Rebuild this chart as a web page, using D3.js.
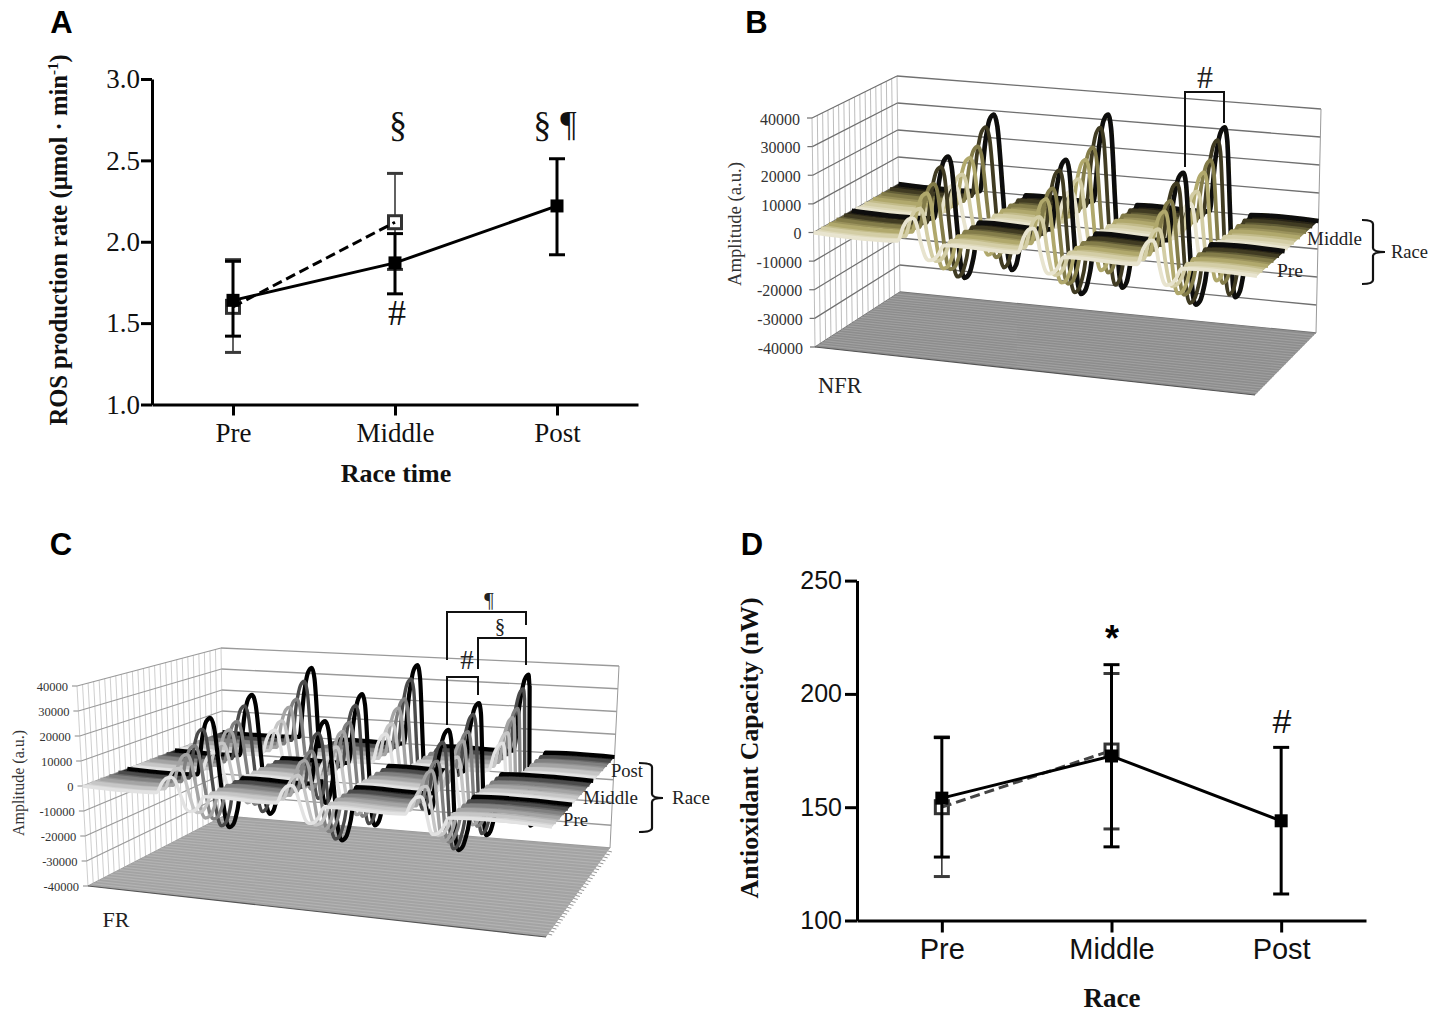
<!DOCTYPE html>
<html>
<head>
<meta charset="utf-8">
<title>ROS production, EPR amplitude and antioxidant capacity</title>
<script src="https://d3js.org/d3.v7.min.js"></script>
<style>
  body { margin: 0; background: #fff; }
  svg { display: block; }
</style>
</head>
<body>
<svg id="fig" width="1445" height="1012"></svg>
<script>
// panel A + D categories
var raceTimes = ['Pre', 'Middle', 'Post'];

// panel A, ROS production rate
var rosSolidMean = [1.64, 1.87, 2.22];
var rosSolidHigh = [1.88, 2.05, 2.51];
var rosSolidLow = [1.42, 1.68, 1.92];
var rosDashMean = [1.60, 2.12];
var rosDashHigh = [1.89, 2.42];
var rosDashLow = [1.32, 1.83];
var rosTicks = [1.0, 1.5, 2.0, 2.5, 3.0];

// panel D, antioxidant capacity
var capSolidMean = [154, 172.6, 144];
var capSolidHigh = [180.7, 212.9, 176.4];
var capSolidLow = [128, 132.5, 111.7];
var capDashMean = [150, 175];
var capDashHigh = [181, 209];
var capDashLow = [119.4, 140.4];
var capTicks = [100, 150, 200, 250];

var ampTicks = [40000, 30000, 20000, 10000, 0, -10000, -20000, -30000, -40000];

// panel B, NFR. each row is one trace, front to back:
// peak1, trough1, peak2, trough2, peak3, trough3
var nfrPreAmp = [
  [8300, -5700, 8800, -6200, 8600, -6100],
  [10100, -7600, 11200, -8300, 10800, -8100],
  [14000, -11800, 15900, -12600, 15300, -12300],
  [15800, -13700, 18000, -14700, 17400, -14500],
  [20300, -18000, 22800, -19400, 21900, -19100],
  [22500, -20100, 25000, -21700, 24000, -21500]
];
var nfrMiddleAmp = [
  [11500, -9000, 13000, -10000, 12500, -9800],
  [13600, -11500, 15600, -12700, 15000, -12400],
  [17900, -16500, 20800, -18200, 19900, -17900],
  [20300, -19300, 23500, -21000, 22500, -20800],
  [25700, -25000, 29000, -27400, 27900, -27000],
  [28600, -27900, 32000, -30500, 30700, -30000]
];
var nfrPrePeakAt = [0.224, 0.495, 0.764];
var nfrPreTroughAt = [0.260, 0.530, 0.796];
var nfrMiddlePeakAt = [0.228, 0.498, 0.774];
var nfrMiddleTroughAt = [0.269, 0.534, 0.805];
var nfrColors = ['#e8e4cf', '#d3cda5', '#b0a86c', '#837b4a', '#3f3a22', '#0a0a07'];

// panel C, FR
var frPreAmp = [
  [6500, -6400, 7200, -6700, 7000, -6600],
  [8600, -8300, 9600, -8800, 9400, -8600],
  [12800, -12000, 14100, -12700, 13900, -12500],
  [15000, -14000, 16300, -14800, 16100, -14600],
  [20500, -18500, 22200, -19500, 22000, -19100],
  [23900, -20800, 25700, -21900, 25500, -21500]
];
var frMiddleAmp = [
  [8800, -8000, 10200, -8600, 9900, -8700],
  [11200, -10300, 13000, -11200, 12500, -11200],
  [15600, -14900, 18100, -16000, 17500, -16100],
  [17800, -17200, 20500, -18400, 19900, -18500],
  [23300, -22100, 26400, -23300, 25700, -23400],
  [26900, -24800, 30000, -25900, 29100, -26000]
];
var frPostAmp = [
  [11000, -9500, 12500, -10000, 11800, -10800],
  [13700, -12200, 15500, -12800, 14700, -13800],
  [18400, -17300, 20900, -18000, 19700, -19700],
  [20700, -19800, 23600, -20600, 22200, -22600],
  [27700, -26000, 31200, -27000, 29300, -29200],
  [32600, -30000, 36300, -31000, 34300, -33000]
];
var frPrePeakAt = [0.190, 0.445, 0.719];
var frPreTroughAt = [0.227, 0.483, 0.748];
var frMiddlePeakAt = [0.187, 0.447, 0.722];
var frMiddleTroughAt = [0.225, 0.479, 0.749];
var frPostPeakAt = [0.228, 0.494, 0.774];
var frPostTroughAt = [0.262, 0.528, 0.792];
var frColors = ['#e2e2e2', '#c6c6c6', '#a4a4a4', '#808080', '#4c4c4c', '#060606'];

// how one lobe leaves the flat part: [share of the wave width, share of the lobe height]
var lobeShoulder = [[1, 0], [0.62, 0.62], [0.3, 0.93], [0, 1]];
// how the peak falls into the trough: [share of peak-trough gap, peak share, trough share]
var lobeFall = [[0.2, 0.85, 0], [0.5, 0, 0], [0.8, 0, 0.85]];

var svg = d3.select('#fig');
var SERIF = '"Liberation Serif", serif';
var SANS = '"Liberation Sans", sans-serif';

svg.append('defs').append('filter')
  .attr('id', 'soft')
  .attr('x', '-5%').attr('y', '-5%').attr('width', '110%').attr('height', '110%')
  .append('feGaussianBlur').attr('stdDeviation', 0.55);

function label(str, x, y, size, opts){
  opts = opts || {};
  return svg.append('text')
    .attr('x', x)
    .attr('y', y)
    .attr('font-family', opts.family || SERIF)
    .attr('font-size', size)
    .attr('font-weight', opts.weight || 'normal')
    .attr('text-anchor', opts.anchor || 'middle')
    .attr('fill', opts.fill || '#111')
    .text(str);
}

function yLabel(x, y, size){
  return svg.append('text')
    .attr('transform', `translate(${x},${y}) rotate(-90)`)
    .attr('font-family', SERIF)
    .attr('font-size', size)
    .attr('text-anchor', 'middle')
    .attr('fill', '#111');
}

// ---------- the two 2D line charts ----------
function errorBars(g, xs, yScale, means, highs, lows, o){
  means.forEach(function(m, i){
    var x = xs(raceTimes[i]);
    g.append('line')
      .attr('x1', x).attr('x2', x)
      .attr('y1', yScale(highs[i])).attr('y2', yScale(lows[i]))
      .attr('stroke', o.color).attr('stroke-width', o.stem);
    [highs[i], lows[i]].forEach(function(v){
      g.append('line')
        .attr('x1', x - 8).attr('x2', x + 8)
        .attr('y1', yScale(v)).attr('y2', yScale(v))
        .attr('stroke', o.color).attr('stroke-width', o.cap);
    });
  });
}

function lineChart(p){
  var x = d3.scalePoint().domain(raceTimes).range([p.left, p.right]).padding(0.5);
  var y = d3.scaleLinear().domain(p.domain).range([p.bottom, p.top]);
  var g = svg.append('g');

  var xAxis = g.append('g')
    .attr('transform', `translate(0,${p.bottom})`)
    .call(d3.axisBottom(x).tickSize(p.tick).tickSizeOuter(0).tickPadding(p.xPad));
  var yAxis = g.append('g')
    .attr('transform', `translate(${p.left},0)`)
    .call(d3.axisLeft(y).tickValues(p.ticks).tickFormat(p.format).tickSize(p.tick).tickSizeOuter(0).tickPadding(p.yPad));

  g.selectAll('.domain').attr('stroke', '#000').attr('stroke-width', 3);
  g.selectAll('.tick line').attr('stroke', '#000').attr('stroke-width', 3);
  xAxis.selectAll('text').attr('font-family', p.family).attr('font-size', p.xSize).attr('fill', '#111');
  yAxis.selectAll('text').attr('font-family', p.family).attr('font-size', p.ySize).attr('fill', '#111');

  var path = d3.line().x((d, i) => x(raceTimes[i])).y(d => y(d));

  // dashed series sits behind the solid one
  errorBars(g, x, y, p.dashMean, p.dashHigh, p.dashLow, {color: '#3a3a3a', stem: 1.6, cap: p.dashCap});
  p.dashMean.forEach(function(m, i){
    g.append('rect')
      .attr('x', x(raceTimes[i]) - 6.5).attr('y', y(m) - 6.5)
      .attr('width', 13).attr('height', 13)
      .attr('fill', '#fff').attr('stroke', '#333').attr('stroke-width', 3);
  });
  g.append('path').datum(p.dashMean)
    .attr('d', path)
    .attr('fill', 'none').attr('stroke', p.dashColor).attr('stroke-width', 3).attr('stroke-dasharray', '10,5');

  errorBars(g, x, y, p.solidMean, p.solidHigh, p.solidLow, {color: '#000', stem: 3, cap: 3});
  g.append('path').datum(p.solidMean)
    .attr('d', path)
    .attr('fill', 'none').attr('stroke', '#000').attr('stroke-width', 3);
  p.solidMean.forEach(function(m, i){
    g.append('rect')
      .attr('x', x(raceTimes[i]) - 6.5).attr('y', y(m) - 6.5)
      .attr('width', 13).attr('height', 13).attr('fill', '#000');
  });
}

lineChart({
  left: 152, right: 638, top: 79, bottom: 404.5, tick: 11, xPad: 7, yPad: 1,
  domain: [1, 3], ticks: rosTicks, format: d3.format('.1f'),
  family: SERIF, xSize: 27, ySize: 27, dashColor: '#000', dashCap: 3,
  solidMean: rosSolidMean, solidHigh: rosSolidHigh, solidLow: rosSolidLow,
  dashMean: rosDashMean, dashHigh: rosDashHigh, dashLow: rosDashLow
});

lineChart({
  left: 857, right: 1366, top: 580.6, bottom: 920.5, tick: 12, xPad: 6, yPad: 3,
  domain: [100, 250], ticks: capTicks, format: d3.format('d'),
  family: SANS, xSize: 29, ySize: 25, dashColor: '#444', dashCap: 3,
  solidMean: capSolidMean, solidHigh: capSolidHigh, solidLow: capSolidLow,
  dashMean: capDashMean, dashHigh: capDashHigh, dashLow: capDashLow
});

// ---------- the two pseudo 3D waterfall charts ----------
var ampUnit = d3.scaleLinear().domain([-40000, 40000]).range([0, 1]);

function lerp(a, b, t){ return a + (b - a) * t; }

// box corners are [bottom, top] screen points of each vertical edge
function projector(box){
  return function(u, z, amp){
    var t = ampUnit(amp);
    function edge(c){
      return [lerp(c[0][0], c[1][0], t), lerp(c[0][1], c[1][1], t)];
    }
    var fl = edge(box.fl), fr = edge(box.fr), bl = edge(box.bl), br = edge(box.br);
    return [
      lerp(lerp(fl[0], fr[0], u), lerp(bl[0], br[0], u), z),
      lerp(lerp(fl[1], fr[1], u), lerp(bl[1], br[1], u), z)
    ];
  };
}

function traceKnots(peakAt, troughAt, row, w){
  var pts = [{u: 0, a: 0}];
  peakAt.forEach(function(p, i){
    var t = troughAt[i], hi = row[i * 2], lo = row[i * 2 + 1];
    lobeShoulder.forEach(s => pts.push({u: p - s[0] * w, a: hi * s[1]}));
    lobeFall.forEach(s => pts.push({u: p + (t - p) * s[0], a: hi * s[1] + lo * s[2]}));
    lobeShoulder.slice().reverse().forEach(s => pts.push({u: t + s[0] * w, a: lo * s[1]}));
  });
  pts.push({u: 1, a: 0});
  return pts;
}

// the flat stretches between the lobes, as [from, to] pairs
function flatSpans(peakAt, troughAt, w){
  var spans = [], start = 0;
  peakAt.forEach(function(p, i){
    spans.push([start, p - w]);
    start = troughAt[i] + w;
  });
  spans.push([start, 1]);
  return spans;
}

function waterfall(p){
  var proj = projector(p.box);
  var g = svg.append('g').attr('filter', 'url(#soft)');
  var seg = function(a, b, color, w){
    g.append('line')
      .attr('x1', a[0]).attr('y1', a[1]).attr('x2', b[0]).attr('y2', b[1])
      .attr('stroke', color).attr('stroke-width', w);
  };

  // side wall
  d3.range(0, p.sideLines + 1).forEach(function(i){
    var z = i / p.sideLines;
    seg(proj(0, z, -40000), proj(0, z, 40000), p.sideColor, 0.9);
  });
  ampTicks.forEach(function(a){
    seg(proj(0, 0, a), proj(0, 1, a), p.gridColor, 1.2);
    seg(proj(0, 1, a), proj(1, 1, a), p.gridColor, 1.3);
    var s = proj(0, 0, a);
    seg([s[0] - 5, s[1]], s, p.gridColor, 1.2);
  });
  seg(proj(1, 1, -40000), proj(1, 1, 40000), '#999', 1);

  // floor
  var corners = [proj(0, 0, -40000), proj(1, 0, -40000), proj(1, 1, -40000), proj(0, 1, -40000)];
  g.append('polygon')
    .attr('points', corners.map(c => c.join(',')).join(' '))
    .attr('fill', p.floor);
  d3.range(1, p.floorLines).forEach(function(i){
    var z = i / p.floorLines;
    seg(proj(0, z, -40000), proj(1, z, -40000), p.floorStripe, 1.1);
    if(p.floorTicks){
      var e = proj(1, z, -40000);
      seg(e, [e[0] + 4, e[1] + 1], '#888', 0.9);
    }
  });
  seg(corners[0], corners[1], '#555', 1.2);

  // groups back to front, traces back to front
  var line = d3.line().x(d => proj(d.u, d.z, d.a)[0]).y(d => proj(d.u, d.z, d.a)[1]).curve(d3.curveMonotoneX);
  p.groups.forEach(function(gr){
    var zOf = d3.scaleLinear().domain([0, gr.amps.length - 1]).range(gr.z);
    var spans = flatSpans(gr.peakAt, gr.troughAt, p.waveWidth);
    for(var i = gr.amps.length - 1; i >= 0; i--){
      var z = zOf(i);
      // fill from this trace towards the next one in front, so the flat part reads as a sheet
      var zNext = i > 0 ? zOf(i - 1) : gr.nextZ;
      var sheet = i > 0 ? d3.interpolateRgb(p.colors[i], p.colors[i - 1])(0.5) : p.colors[0];
      if(zNext !== undefined){
        spans.forEach(function(s){
          var quad = [proj(s[0], z, 0), proj(s[1], z, 0), proj(s[1], zNext, 0), proj(s[0], zNext, 0)];
          g.append('polygon').attr('points', quad.map(c => c.join(',')).join(' ')).attr('fill', sheet);
        });
      }
      var pts = traceKnots(gr.peakAt, gr.troughAt, gr.amps[i], p.waveWidth).map(d => ({u: d.u, z: z, a: d.a}));
      g.append('path').datum(pts)
        .attr('d', line)
        .attr('fill', 'none')
        .attr('stroke', p.colors[i])
        .attr('stroke-width', i === gr.amps.length - 1 ? p.stroke + 0.8 : p.stroke)
        .attr('stroke-linejoin', 'round');
    }
  });

  // amplitude tick labels
  ampTicks.forEach(function(a){
    var s = proj(0, 0, a);
    label(a, s[0] - p.tickGap, s[1] + p.tickSize * p.tickDrop, p.tickSize, {anchor: 'end', fill: '#333'});
  });
}

function bracket(coords, w){
  svg.append('path')
    .attr('d', d3.line()(coords))
    .attr('fill', 'none').attr('stroke', '#111').attr('stroke-width', w || 2);
}

function brace(x0, x1, x2, y0, y1, yMid){
  // the curly "Race" bracket
  svg.append('path')
    .attr('d', `M${x0},${y0} Q${x1},${y0} ${x1},${y0 + 4} L${x1},${yMid - 4} Q${x1},${yMid} ${x2},${yMid} Q${x1},${yMid} ${x1},${yMid + 4} L${x1},${y1 - 4} Q${x1},${y1} ${x0},${y1}`)
    .attr('fill', 'none').attr('stroke', '#111').attr('stroke-width', 2.2);
}

waterfall({
  box: {
    fl: [[815, 347], [812, 118]],
    fr: [[1255, 395], [1259, 157]],
    bl: [[900, 292], [897, 76]],
    br: [[1316, 333], [1321, 109]]
  },
  sideLines: 16, floorLines: 26, floorTicks: false,
  sideColor: '#b5b5b5', gridColor: '#6f6f6f', floor: '#8d8d8d', floorStripe: '#a0a0a0',
  waveWidth: 0.034, stroke: 3.8, colors: nfrColors, tickGap: 12, tickSize: 16, tickDrop: 0.42,
  groups: [
    {amps: nfrMiddleAmp, z: [0.5, 1], nextZ: 0.45, peakAt: nfrMiddlePeakAt, troughAt: nfrMiddleTroughAt},
    {amps: nfrPreAmp, z: [0, 0.45], peakAt: nfrPrePeakAt, troughAt: nfrPreTroughAt}
  ]
});

waterfall({
  box: {
    fl: [[88, 886], [77, 686]],
    fr: [[546, 937], [558, 717]],
    bl: [[224, 816], [221, 648]],
    br: [[610, 848], [619, 666]]
  },
  sideLines: 26, floorLines: 30, floorTicks: true,
  sideColor: '#c8c8c8', gridColor: '#9a9a9a', floor: '#a3a3a3', floorStripe: '#b3b3b3',
  waveWidth: 0.032, stroke: 3.4, colors: frColors, tickGap: 9, tickSize: 12.5, tickDrop: 0.4,
  groups: [
    {amps: frPostAmp, z: [0.70, 1], nextZ: 0.66, peakAt: frPostPeakAt, troughAt: frPostTroughAt},
    {amps: frMiddleAmp, z: [0.36, 0.66], nextZ: 0.32, peakAt: frMiddlePeakAt, troughAt: frMiddleTroughAt},
    {amps: frPreAmp, z: [0, 0.32], peakAt: frPrePeakAt, troughAt: frPreTroughAt}
  ]
});

// ---------- panel letters ----------
label('A', 61.5, 33, 31, {family: SANS, weight: 'bold', fill: '#000'});
label('B', 756.5, 33, 31, {family: SANS, weight: 'bold', fill: '#000'});
label('C', 61, 555, 31, {family: SANS, weight: 'bold', fill: '#000'});
label('D', 752, 555, 31, {family: SANS, weight: 'bold', fill: '#000'});

// ---------- panel A text ----------
var rosTitle = yLabel(67, 240, 24.6).attr('font-weight', 'bold');
rosTitle.append('tspan').text('ROS production rate (\u00b5mol \u00b7 min');
rosTitle.append('tspan').attr('dy', -9).attr('font-size', 15).text('-1');
rosTitle.append('tspan').attr('dy', 9).text(')');
label('Race time', 396, 482, 26, {weight: 'bold'});
label('\u00a7', 398, 136, 36);
label('\u00a7 \u00b6', 555, 136, 36);
label('#', 397, 325, 36);

// ---------- panel B text ----------
yLabel(741, 224, 18.7).attr('fill', '#333').text('Amplitude (a.u.)');
label('NFR', 840, 393, 22.5, {fill: '#222'});
label('#', 1205, 88, 32, {fill: '#222'});
bracket([[1185, 167], [1185, 92], [1224, 92], [1224, 123]]);
label('Middle', 1334.5, 245, 19, {fill: '#222'});
label('Pre', 1290, 277, 19.5, {fill: '#222'});
label('Race', 1409.5, 258, 18.5, {fill: '#222'});
brace(1362, 1373, 1385, 220, 284, 252);

// ---------- panel C text ----------
yLabel(24, 783, 16).attr('fill', '#333').text('Amplitude (a.u.)');
label('FR', 116, 927, 22, {fill: '#222'});
bracket([[447, 660], [447, 612], [526, 612], [526, 625]]);
bracket([[478, 669], [478, 638], [526, 638], [526, 665]]);
bracket([[447, 725], [447, 677], [478, 677], [478, 695]]);
label('\u00b6', 489, 607, 21, {fill: '#222'});
label('\u00a7', 500, 633, 21, {fill: '#222'});
label('#', 467, 669, 27, {fill: '#222'});
label('Post', 627, 777, 18.6, {fill: '#222'});
label('Middle', 610.5, 804, 19, {fill: '#222'});
label('Pre', 575.5, 826, 18.6, {fill: '#222'});
label('Race', 691, 804, 19, {fill: '#222'});
brace(639, 652, 663, 763, 832, 798);

// ---------- panel D text ----------
yLabel(758, 748, 25.8).attr('font-weight', 'bold').text('Antioxidant Capacity (nW)');
label('Race', 1112, 1007, 27, {weight: 'bold'});
label('*', 1112, 651, 36, {family: SANS, weight: 'bold', fill: '#000'});
label('#', 1282, 733, 34, {family: SANS});
</script>
</body>
</html>
